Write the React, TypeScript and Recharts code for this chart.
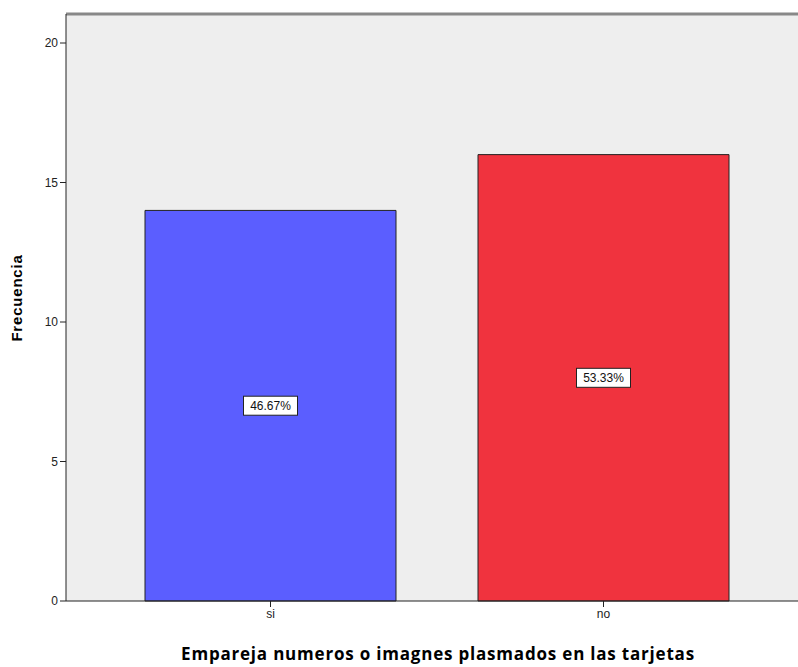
import React from "react";
import { BarChart, Bar, XAxis, YAxis, CartesianGrid, ReferenceLine, LabelList, Cell, Label } from "recharts";

const categories = ["si", "no"];
const frequencies = [14, 16];
const percentLabels = ["46.67%", "53.33%"];
const yTicks = [0, 5, 10, 15, 20];
const colors = ["#5B5EFF", "#F0333E"];

const data = categories.map((c, i) => ({ name: c, value: frequencies[i], pct: percentLabels[i] }));

const PctLabel = (props: any) => {
  const { x, y, width, height, value } = props;
  const cx = x + width / 2;
  const cy = y + height / 2;
  const w = 54;
  const h = 19;
  return (
    <g>
      <rect x={cx - w / 2} y={cy - h / 2} width={w} height={h} fill="#FFFFFF" stroke="#222" strokeWidth={1} />
      <text x={cx} y={cy + 4.5} textAnchor="middle" fontSize={12} fontFamily="Liberation Sans, Arial, sans-serif" fill="#111">
        {value}
      </text>
    </g>
  );
};

const YTitle = () => (
  <text
    transform="translate(22,298) rotate(-90)"
    textAnchor="middle"
    fontSize={15}
    fontWeight="bold"
    fill="#000"
    letterSpacing={0.8}
    fontFamily="Liberation Sans, Arial, sans-serif"
  >
    Frecuencia
  </text>
);

const XTitle = () => (
  <text
    x={438}
    y={660}
    textAnchor="middle"
    fontSize={17}
    fontWeight="bold"
    fill="#000"
    letterSpacing={0.8}
    fontFamily="Open Sans, Noto Sans, sans-serif"
  >
    Empareja numeros o imagnes plasmados en las tarjetas
  </text>
);

export default function App() {
  return (
    <div style={{ position: "absolute", left: 0, top: 0, background: "#fff" }}>
      <BarChart
        width={798}
        height={667}
        data={data}
        margin={{ top: 14, right: 0, left: 0, bottom: 0 }}
        barCategoryGap={41}
      >
        <CartesianGrid fill="#EEEEEE" stroke="none" />
        <XAxis
          dataKey="name"
          height={66}
          padding={{ left: 38, right: 28 }}
          tickSize={6}
          stroke="#222"
          tick={{ fill: "#222", fontSize: 12, fontFamily: "Liberation Sans, Arial, sans-serif" }}
        >
          <Label content={XTitle} />
        </XAxis>
        <YAxis
          width={66}
          domain={[0, 21.04]}
          ticks={yTicks}
          tickSize={6}
          stroke="#222"
          tick={{ fill: "#222", fontSize: 12, fontFamily: "Liberation Sans, Arial, sans-serif" }}
        >
          <Label content={YTitle} />
        </YAxis>
        <ReferenceLine y={21.04} stroke="#888" strokeWidth={3} />
        <Bar dataKey="value" isAnimationActive={false} stroke="#222" strokeWidth={1}>
          {data.map((d, i) => (
            <Cell key={d.name} fill={colors[i]} />
          ))}
          <LabelList dataKey="pct" content={PctLabel} />
        </Bar>
      </BarChart>
    </div>
  );
}
